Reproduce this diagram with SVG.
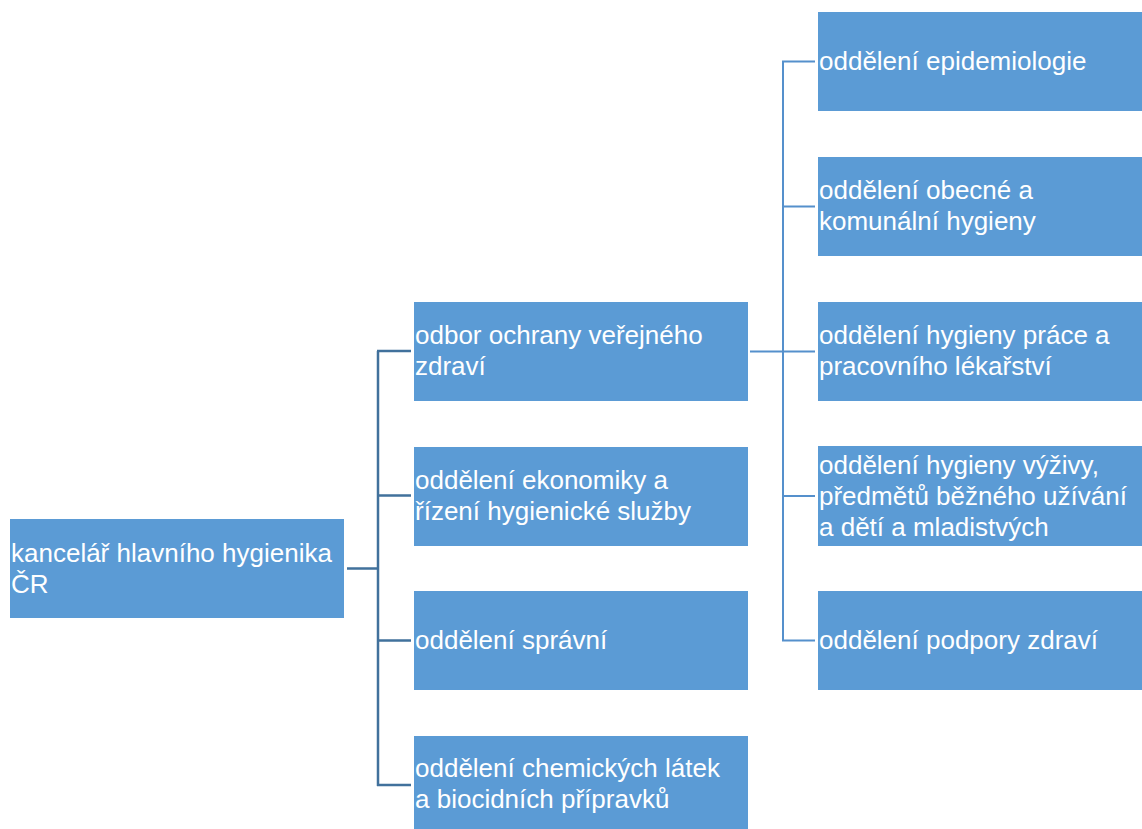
<svg xmlns="http://www.w3.org/2000/svg" width="1142" height="829" viewBox="0 0 1142 829">
<style>
.box{fill:#5B9BD5;}
.t{font-family:"Liberation Sans",Arial,sans-serif;font-size:26px;fill:#FFFFFF;}
.c1{stroke:#41719C;stroke-width:2.5;fill:none;}
.c2{stroke:#5590CC;stroke-width:2;fill:none;}
</style>
<rect width="1142" height="829" fill="#FFFFFF"/>
<g id="connectors">
<path class="c1" d="M347,568.5 H378 M378,351 V786 M377,351 H411 M377,495.5 H411 M377,640.5 H411 M377,785 H411"/>
<path class="c2" d="M750,351.5 H783 M783,61.5 V641 M782,61.5 H815 M782,206.5 H815 M782,351.5 H815 M782,496 H815 M782,640.5 H815"/>
</g>
<g id="root"><rect class="box" x="10" y="519" width="334" height="99"/>
<text class="t" x="11"><tspan x="11" y="562">kancelář hlavního hygienika</tspan><tspan x="11" y="593">ČR</tspan></text></g>
<g id="n1"><rect class="box" x="414" y="302" width="334" height="99"/>
<text class="t"><tspan x="415" y="344">odbor ochrany veřejného</tspan><tspan x="415" y="375">zdraví</tspan></text></g>
<g id="n2"><rect class="box" x="414" y="447" width="334" height="99"/>
<text class="t"><tspan x="415" y="489">oddělení ekonomiky a</tspan><tspan x="415" y="520">řízení hygienické služby</tspan></text></g>
<g id="n3"><rect class="box" x="414" y="591" width="334" height="99"/>
<text class="t"><tspan x="415" y="649">oddělení správní</tspan></text></g>
<g id="n4"><rect class="box" x="414" y="736" width="334" height="99"/>
<text class="t"><tspan x="415" y="777">oddělení chemických látek</tspan><tspan x="415" y="808">a biocidních přípravků</tspan></text></g>
<g id="r1"><rect class="box" x="818" y="12" width="324" height="99"/>
<text class="t"><tspan x="819" y="70">oddělení epidemiologie</tspan></text></g>
<g id="r2"><rect class="box" x="818" y="157" width="324" height="99"/>
<text class="t"><tspan x="819" y="199">oddělení obecné a</tspan><tspan x="819" y="230">komunální hygieny</tspan></text></g>
<g id="r3"><rect class="box" x="818" y="302" width="324" height="99"/>
<text class="t"><tspan x="819" y="344">oddělení hygieny práce a</tspan><tspan x="819" y="375">pracovního lékařství</tspan></text></g>
<g id="r4"><rect class="box" x="818" y="446" width="324" height="100"/>
<text class="t"><tspan x="819" y="474">oddělení hygieny výživy,</tspan><tspan x="819" y="505">předmětů běžného užívání</tspan><tspan x="819" y="536">a dětí a mladistvých</tspan></text></g>
<g id="r5"><rect class="box" x="818" y="591" width="324" height="99"/>
<text class="t"><tspan x="819" y="649">oddělení podpory zdraví</tspan></text></g>
</svg>
